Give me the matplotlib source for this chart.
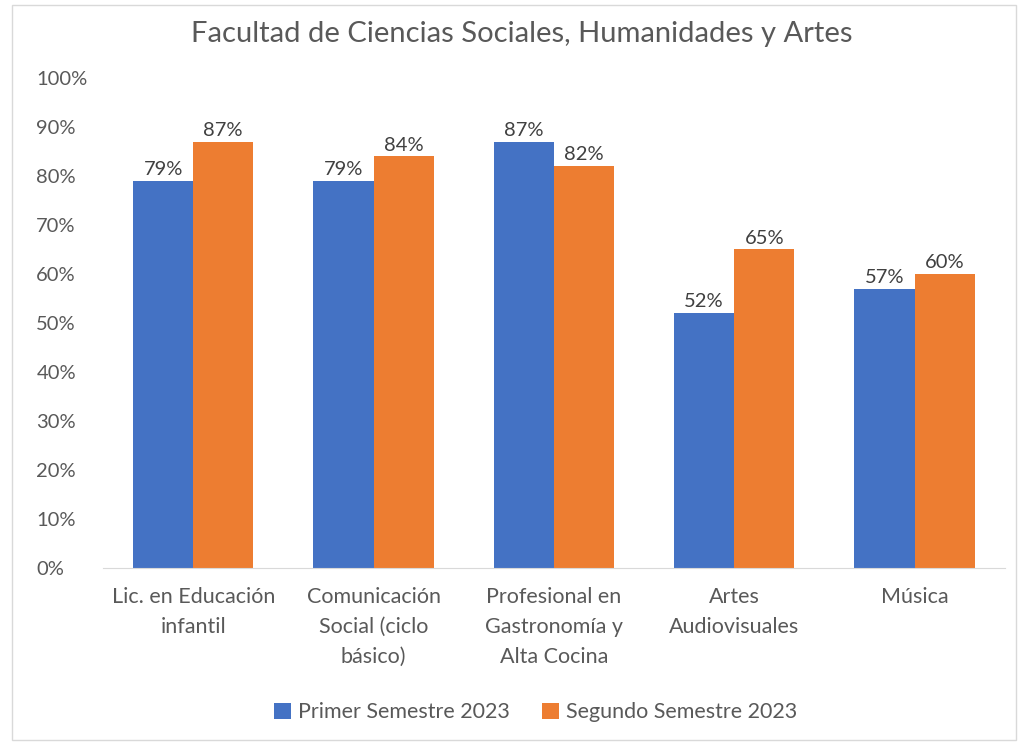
import matplotlib.pyplot as plt
import numpy as np
from matplotlib.patches import Rectangle

categorias = [
    "Lic. en Educación\ninfantil",
    "Comunicación\nSocial (ciclo\nbásico)",
    "Profesional en\nGastronomía y\nAlta Cocina",
    "Artes\nAudiovisuales",
    "Música",
]
primer_semestre = [0.79, 0.79, 0.87, 0.52, 0.57]
segundo_semestre = [0.87, 0.84, 0.82, 0.65, 0.60]
series = ["Primer Semestre 2023", "Segundo Semestre 2023"]
colores = ["#4472C4", "#ED7D31"]

plt.rcParams["font.family"] = ["Lato", "DejaVu Sans"]
gris = "#595959"

fig = plt.figure(figsize=(10.2, 7.45), dpi=100)
fig.patches.append(Rectangle((12 / 1020, 5 / 745), 1004 / 1020, 735 / 745,
                             transform=fig.transFigure, fill=False,
                             edgecolor="#D9D9D9", linewidth=1))
ax = fig.add_axes([0.101, 0.2376, 0.884, 0.6577])

x = np.arange(len(categorias))
w = 1 / 3
b1 = ax.bar(x - w / 2, primer_semestre, w, color=colores[0], label=series[0])
b2 = ax.bar(x + w / 2, segundo_semestre, w, color=colores[1], label=series[1])

for barras in (b1, b2):
    ax.bar_label(barras, labels=[f"{v:.0%}" for v in barras.datavalues],
                 padding=2, fontsize=14.5, color="#404040")

ax.set_ylim(0, 1)
ax.set_xlim(-0.5, len(categorias) - 0.5)
ax.set_yticks(np.arange(0, 1.01, 0.1))
ax.set_yticklabels([f"{int(round(t * 100))}%" for t in np.arange(0, 1.01, 0.1)])
ax.set_xticks(x)
ax.set_xticklabels(categorias, linespacing=1.6)
ax.tick_params(axis="y", length=0, pad=48, labelsize=14.5, labelcolor=gris)
ax.tick_params(axis="x", length=0, pad=14, labelsize=15.5, labelcolor=gris)
for lbl in ax.get_yticklabels():
    lbl.set_horizontalalignment("left")
for s in ["top", "right", "left"]:
    ax.spines[s].set_visible(False)
ax.spines["bottom"].set_color("#D9D9D9")

fig.text(0.512, 0.955, "Facultad de Ciencias Sociales, Humanidades y Artes",
         ha="center", va="center", fontsize=21, color=gris)

fig.legend(loc="center", bbox_to_anchor=(0.525, 0.044), ncol=2, frameon=False,
           fontsize=15.5, labelcolor=gris, handlelength=0.8, handleheight=0.8,
           handletextpad=0.3, columnspacing=1.5)

fig.savefig("out.png", dpi=100)
